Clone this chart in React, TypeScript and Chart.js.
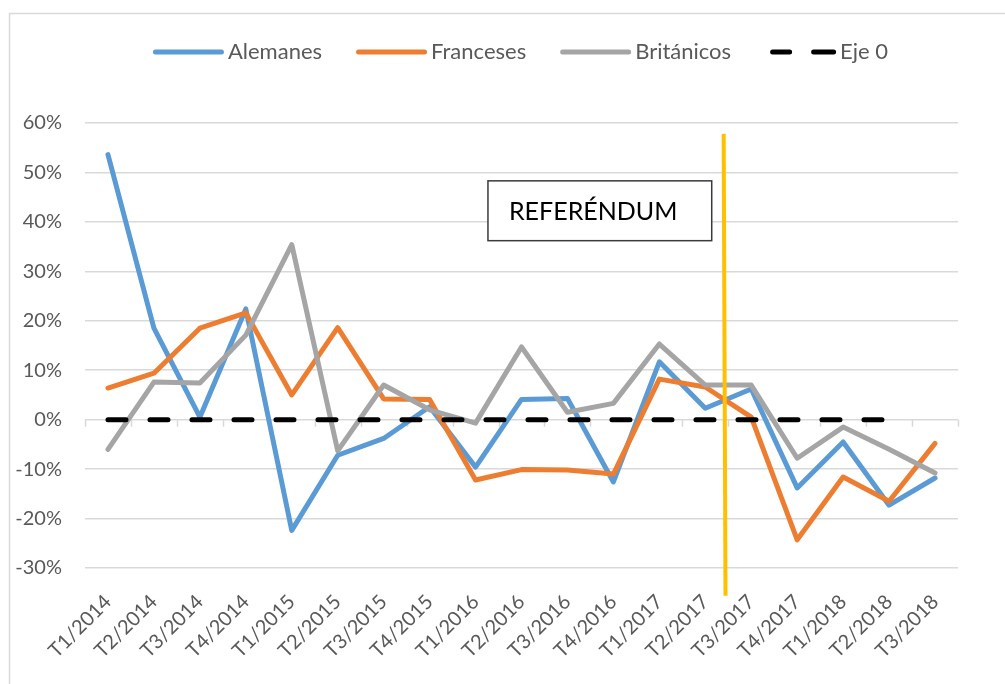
import React, { useEffect, useRef } from 'react';
import { Chart, registerables } from 'chart.js';

Chart.register(...registerables);

const categories = [
  'T1/2014', 'T2/2014', 'T3/2014', 'T4/2014',
  'T1/2015', 'T2/2015', 'T3/2015', 'T4/2015',
  'T1/2016', 'T2/2016', 'T3/2016', 'T4/2016',
  'T1/2017', 'T2/2017', 'T3/2017', 'T4/2017',
  'T1/2018', 'T2/2018', 'T3/2018',
];

const alemanes = [53.6, 18.5, 0.5, 22.4, -22.4, -7.2, -3.8, 2.6, -9.6, 4.1, 4.3, -12.6, 11.7, 2.3, 6.2, -13.8, -4.5, -17.3, -11.8];
const franceses = [6.4, 9.4, 18.5, 21.6, 5.0, 18.6, 4.2, 4.1, -12.2, -10.1, -10.2, -11.0, 8.2, 6.6, 0.5, -24.3, -11.6, -16.5, -4.8];
const britanicos = [-6.0, 7.6, 7.4, 17.1, 35.4, -6.3, 7.0, 2.0, -0.7, 14.7, 1.5, 3.3, 15.3, 7.0, 7.0, -7.8, -1.5, -6.0, -10.8];
const eje0 = [0, 0, 0, 0, 0, 0, 0, 0, 0, 0, 0, 0, 0, 0, 0, 0, 0, 0, null];

const yTicks = [-30, -20, -10, 0, 10, 20, 30, 40, 50, 60];

const seriesNames = ['Alemanes', 'Franceses', 'Británicos', 'Eje 0'];

// annotation (in category index / value units)
const refLabel = 'REFERÉNDUM';
const refLine = { xTop: 13.40, xBottom: 13.44, yTop: 57.8, yBottom: -35.6 };
const refBox = { x0: 8.27, x1: 13.14, y0: 48.3, y1: 36.2 };

const BLUE = '#5B9BD5';
const ORANGE = '#ED7D31';
const GRAY = '#A5A5A5';
const BLACK = '#000000';
const TEXT = '#595959';
const GRID = '#D9D9D9';
const FONT = "Lato, 'Open Sans', sans-serif";

const decorPlugin = {
  id: 'decor',
  beforeDraw(chart: any) {
    const { ctx, width, height } = chart;
    ctx.save();
    ctx.fillStyle = '#ffffff';
    ctx.fillRect(0, 0, width, height);
    ctx.strokeStyle = GRID;
    ctx.lineWidth = 1.5;
    ctx.strokeRect(9.5, 13.5, width + 20, height + 20);
    ctx.restore();
  },
  beforeDatasetsDraw(chart: any) {
    const { ctx, chartArea } = chart;
    const y = chart.scales.y;
    const y0 = y.getPixelForValue(0);
    const n = categories.length;
    const step = (chartArea.right - chartArea.left) / n;
    ctx.save();
    ctx.strokeStyle = GRID;
    ctx.lineWidth = 1.5;
    ctx.beginPath();
    for (let i = 0; i <= n; i++) {
      const px = Math.round(chartArea.left + i * step) + 0.5;
      ctx.moveTo(px, y0);
      ctx.lineTo(px, y0 + 7);
    }
    ctx.stroke();
    ctx.restore();
  },
  afterDraw(chart: any) {
    const { ctx, chartArea } = chart;
    const x = chart.scales.x;
    const y = chart.scales.y;
    ctx.save();
    // referendum vertical line
    ctx.strokeStyle = '#FFC000';
    ctx.lineWidth = 4;
    ctx.beginPath();
    ctx.moveTo(x.getPixelForValue(refLine.xTop), y.getPixelForValue(refLine.yTop));
    ctx.lineTo(x.getPixelForValue(refLine.xBottom), y.getPixelForValue(refLine.yBottom));
    ctx.stroke();

    // referendum box
    const bx0 = x.getPixelForValue(refBox.x0);
    const bx1 = x.getPixelForValue(refBox.x1);
    const by0 = y.getPixelForValue(refBox.y0);
    const by1 = y.getPixelForValue(refBox.y1);
    ctx.fillStyle = '#ffffff';
    ctx.fillRect(bx0, by0, bx1 - bx0, by1 - by0);
    ctx.strokeStyle = '#3A3A3A';
    ctx.lineWidth = 1.5;
    ctx.strokeRect(bx0, by0, bx1 - bx0, by1 - by0);
    ctx.fillStyle = '#000000';
    ctx.font = `25px ${FONT}`;
    ctx.textAlign = 'left';
    ctx.textBaseline = 'middle';
    ctx.fillText(refLabel, bx0 + 21, (by0 + by1) / 2 + 1);

    // legend
    const colors = [BLUE, ORANGE, GRAY, BLACK];
    ctx.font = `22px ${FONT}`;
    const lineLen = 71;
    const gapText = 4;
    const itemGap = 34;
    const widths = seriesNames.map((s) => ctx.measureText(s).width);
    const total = widths.reduce((a, w) => a + lineLen + gapText + w, 0) + itemGap * (seriesNames.length - 1);
    let cx = (chartArea.left + chartArea.right) / 2 - 1 - total / 2;
    const ly = 52;
    ctx.lineCap = 'round';
    ctx.lineWidth = 5;
    seriesNames.forEach((name, i) => {
      ctx.strokeStyle = colors[i];
      ctx.beginPath();
      if (i === 3) {
        ctx.moveTo(cx + 2.5 + 5, ly);
        ctx.lineTo(cx + 2.5 + 27 - 5, ly);
        ctx.moveTo(cx + 2.5 + 46, ly);
        ctx.lineTo(cx + lineLen - 2.5, ly);
      } else {
        ctx.moveTo(cx + 2.5, ly);
        ctx.lineTo(cx + lineLen - 2.5, ly);
      }
      ctx.stroke();
      ctx.fillStyle = TEXT;
      ctx.textAlign = 'left';
      ctx.textBaseline = 'middle';
      ctx.fillText(name, cx + lineLen + gapText, ly);
      cx += lineLen + gapText + widths[i] + itemGap;
    });
    ctx.restore();
  },
};

export default function App() {
  const canvasRef = useRef<HTMLCanvasElement | null>(null);

  useEffect(() => {
    if (!canvasRef.current) return;
    const lineCommon = {
      borderWidth: 5,
      pointRadius: 0,
      pointHoverRadius: 0,
      borderJoinStyle: 'round' as const,
      borderCapStyle: 'round' as const,
      tension: 0,
      fill: false,
    };
    const chart = new Chart(canvasRef.current, {
      type: 'line',
      data: {
        labels: categories,
        datasets: [
          { ...lineCommon, label: seriesNames[0], data: alemanes, borderColor: BLUE, backgroundColor: BLUE, order: 3 },
          { ...lineCommon, label: seriesNames[1], data: franceses, borderColor: ORANGE, backgroundColor: ORANGE, order: 2 },
          { ...lineCommon, label: seriesNames[2], data: britanicos, borderColor: GRAY, backgroundColor: GRAY, order: 1 },
          {
            ...lineCommon,
            label: seriesNames[3],
            data: eje0,
            borderColor: BLACK,
            backgroundColor: BLACK,
            borderDash: [18, 24],
            borderWidth: 5,
            spanGaps: false,
            order: 0,
          },
        ],
      },
      options: {
        animation: false,
        responsive: false,
        layout: { padding: { top: 123, right: 47, bottom: 0, left: 10 } },
        plugins: {
          legend: { display: false },
          tooltip: { enabled: false },
          title: { display: false },
        },
        scales: {
          x: {
            type: 'category',
            offset: true,
            grid: { display: false },
            border: { display: false },
            ticks: {
              autoSkip: false,
              maxRotation: 45,
              minRotation: 45,
              padding: 14,
              color: TEXT,
              font: { family: FONT, size: 20 },
            },
            afterFit(scale: any) {
              scale.height = 116;
            },
          },
          y: {
            type: 'linear',
            min: -30,
            max: 60,
            afterBuildTicks(scale: any) {
              scale.ticks = yTicks.map((v) => ({ value: v }));
            },
            grid: { color: GRID, lineWidth: 1.5, drawTicks: false },
            border: { display: false },
            ticks: {
              padding: 23,
              color: TEXT,
              font: { family: FONT, size: 20 },
              callback: (v: any) => `${v}%`,
            },
            afterFit(scale: any) {
              scale.width = 75;
            },
          },
        },
      },
      plugins: [decorPlugin],
    });
    return () => chart.destroy();
  }, []);

  return (
    <div style={{ position: 'fixed', left: 0, top: 0, width: 1005, height: 684, background: '#fff' }}>
      <canvas ref={canvasRef} width={1005} height={684} style={{ display: 'block' }} />
    </div>
  );
}
